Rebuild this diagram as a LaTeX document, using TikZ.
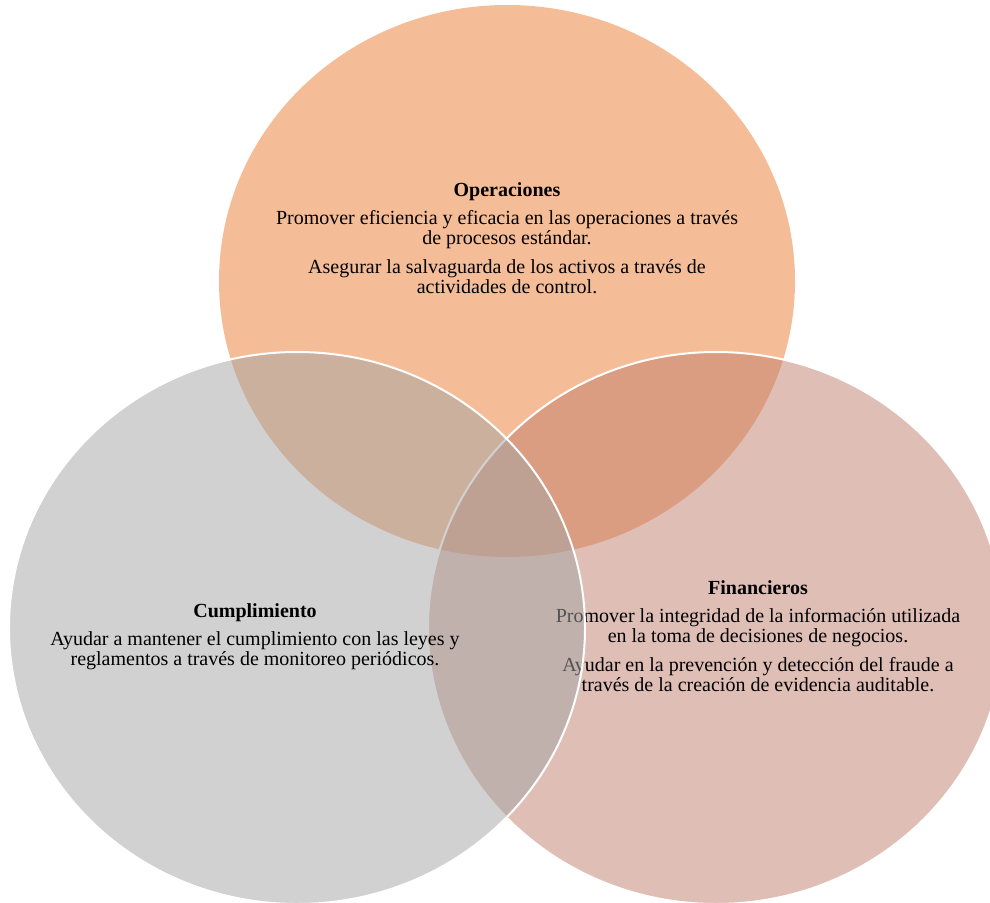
\documentclass[tikz,border=0pt]{standalone}
\usepackage{fontspec}
\setmainfont{Liberation Serif}

\definecolor{opsorange}{RGB}{237,125,49}
\definecolor{finrose}{RGB}{193,127,111}
\definecolor{cumgray}{RGB}{165,165,165}

\begin{document}
\begin{tikzpicture}[x=1pt,y=-1pt,
  venn/.style={fill opacity=0.5},
  vennedge/.style={draw=white,line width=2pt},
  blocktext/.style={align=center,inner sep=0pt,text=black,
    font=\fontsize{20}{20}\selectfont}]

% canvas
\useasboundingbox (0,0) rectangle (990,902);
\fill[white] (0,0) rectangle (990,902);
\clip (0,0) rectangle (990,902);

% Operaciones
\fill[venn,opsorange] (507,281) ellipse [x radius=288pt, y radius=276pt];
\node[blocktext] (ops) at (507,238)
  {\textbf{Operaciones}\\[8pt]
   Promover eficiencia y eficacia en las operaciones a través\\
   de procesos estándar.\\[9pt]
   Asegurar la salvaguarda de los activos a través de\\
   actividades de control.};

% Financieros
\path[venn,fill=finrose,vennedge] (716,628) ellipse [x radius=288pt, y radius=276pt];
\node[blocktext] (fin) at (758,636)
  {\textbf{Financieros}\\[8pt]
   Promover la integridad de la información utilizada\\
   en la toma de decisiones de negocios.\\[9pt]
   Ayudar en la prevención y detección del fraude a\\
   través de la creación de evidencia auditable.};

% Cumplimiento
\path[venn,fill=cumgray,vennedge] (297,628) ellipse [x radius=288pt, y radius=276pt];
\node[blocktext] (cum) at (255,637)
  {\textbf{Cumplimiento}\\[8pt]
   Ayudar a mantener el cumplimiento con las leyes y\\
   reglamentos a través de monitoreo periódicos.};

\end{tikzpicture}
\end{document}
